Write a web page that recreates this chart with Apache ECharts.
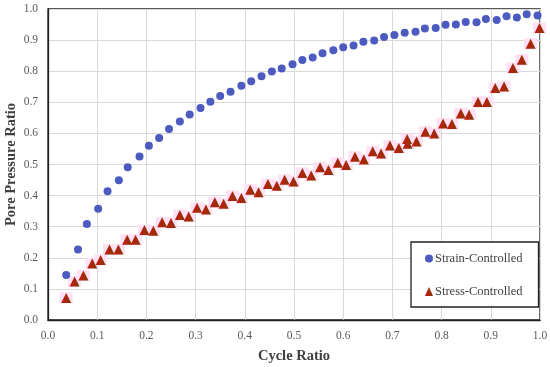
<!DOCTYPE html>
<html>
<head>
<meta charset="utf-8">
<script src="https://cdn.jsdelivr.net/npm/echarts@6/dist/echarts.min.js"></script>
<style>html,body{margin:0;padding:0;background:#fff}#c{width:550px;height:367px}</style>
</head>
<body>
<div id="c"></div>
<script>
const strainX = [0.037,0.061,0.079,0.102,0.121,0.144,0.162,0.186,0.205,0.226,0.246,0.268,0.288,0.310,0.330,0.350,0.371,0.393,0.413,0.434,0.455,0.475,0.497,0.517,0.538,0.558,0.580,0.600,0.621,0.641,0.663,0.683,0.704,0.725,0.747,0.766,0.788,0.808,0.829,0.849,0.871,0.890,0.912,0.932,0.953,0.973,0.995];
const strainY = [0.145,0.227,0.309,0.358,0.414,0.449,0.491,0.526,0.560,0.585,0.614,0.638,0.661,0.682,0.702,0.720,0.734,0.753,0.768,0.784,0.799,0.809,0.822,0.836,0.844,0.858,0.867,0.877,0.883,0.895,0.899,0.910,0.916,0.924,0.927,0.937,0.939,0.949,0.950,0.958,0.957,0.968,0.965,0.977,0.973,0.983,0.979];
const stressX = [0.037,0.054,0.072,0.090,0.107,0.125,0.143,0.161,0.178,0.196,0.214,0.232,0.250,0.268,0.286,0.303,0.321,0.339,0.357,0.375,0.393,0.411,0.428,0.447,0.465,0.481,0.499,0.517,0.535,0.553,0.570,0.589,0.606,0.624,0.642,0.660,0.677,0.695,0.713,0.730,0.731,0.749,0.767,0.785,0.803,0.821,0.839,0.856,0.874,0.892,0.909,0.927,0.945,0.963,0.981,0.999];
const stressY = [0.071,0.124,0.143,0.182,0.193,0.227,0.227,0.258,0.258,0.289,0.287,0.314,0.312,0.338,0.333,0.361,0.355,0.379,0.374,0.399,0.392,0.419,0.411,0.437,0.432,0.451,0.445,0.473,0.465,0.491,0.482,0.506,0.498,0.525,0.516,0.543,0.535,0.561,0.553,0.582,0.567,0.574,0.605,0.600,0.632,0.630,0.664,0.660,0.701,0.701,0.746,0.751,0.810,0.837,0.888,0.939];
const tickValues = [0,0.1,0.2,0.3,0.4,0.5,0.6,0.7,0.8,0.9,1.0];

const strainData = strainX.map((x,i)=>[x,strainY[i]]);
const stressData = stressX.map((x,i)=>[x,stressY[i]]);
const serif = '"Liberation Serif", "DejaVu Serif", serif';
const triColor = {type:'linear',x:0,y:0,x2:1,y2:0,colorStops:[{offset:0,color:'#C8160C'},{offset:0.5,color:'#A8280A'},{offset:1,color:'#7A3A05'}]};

const chart = echarts.init(document.getElementById('c'));
chart.setOption({
  animation:false,
  grid:{left:48,right:10,top:9,bottom:47,containLabel:false,outerBoundsMode:'none',show:true,borderColor:'#222',borderWidth:1.3},
  xAxis:{type:'value',min:0,max:1,interval:0.1,
    name:'Cycle Ratio',nameLocation:'middle',nameGap:29,nameMoveOverlap:false,
    nameTextStyle:{fontFamily:serif,fontWeight:'bold',fontSize:14.5,color:'#404040'},
    axisLine:{show:true,lineStyle:{color:'#222',width:1.3}},axisTick:{show:false},
    axisLabel:{fontFamily:serif,fontSize:11.5,color:'#595959',margin:10,formatter:v=>v.toFixed(1)},
    splitLine:{show:true,lineStyle:{color:'#d9d9d9',width:1}}},
  yAxis:{type:'value',min:0,max:1,interval:0.1,
    name:'Pore Pressure Ratio',nameLocation:'middle',nameGap:29,nameMoveOverlap:false,
    nameTextStyle:{fontFamily:serif,fontWeight:'bold',fontSize:14.5,color:'#404040'},
    axisLine:{show:true,lineStyle:{color:'#222',width:1.3}},axisTick:{show:false},
    axisLabel:{fontFamily:serif,fontSize:11.5,color:'#595959',margin:10,formatter:v=>v.toFixed(1)},
    splitLine:{show:true,lineStyle:{color:'#d9d9d9',width:1}}},
  legend:{orient:'vertical',left:411,top:242,
    padding:[10,16,9,14],itemGap:20,itemWidth:8,itemHeight:9,
    backgroundColor:'#fff',borderColor:'#222',borderWidth:1.3,
    textStyle:{fontFamily:serif,fontSize:12.5,color:'#404040',padding:[0,0,0,-3]},
    data:[{name:'Strain-Controlled',icon:'circle'},{name:'Stress-Controlled',icon:'triangle'}]},
  series:[
    {name:'stress-bg',type:'scatter',data:stressData,symbol:'rect',symbolSize:[13,11],
     itemStyle:{color:'#FFE0F4',opacity:1},clip:false,silent:true,z:1},
    {name:'Strain-Controlled',type:'scatter',data:strainData,symbol:'circle',symbolSize:8,
     itemStyle:{color:'#4B5BC0',opacity:1},clip:false,z:3},
    {name:'Stress-Controlled',type:'scatter',data:stressData,symbol:'triangle',symbolSize:[10,10],
     itemStyle:{color:triColor,opacity:1},clip:false,z:2}
  ]
});
</script>
</body>
</html>
